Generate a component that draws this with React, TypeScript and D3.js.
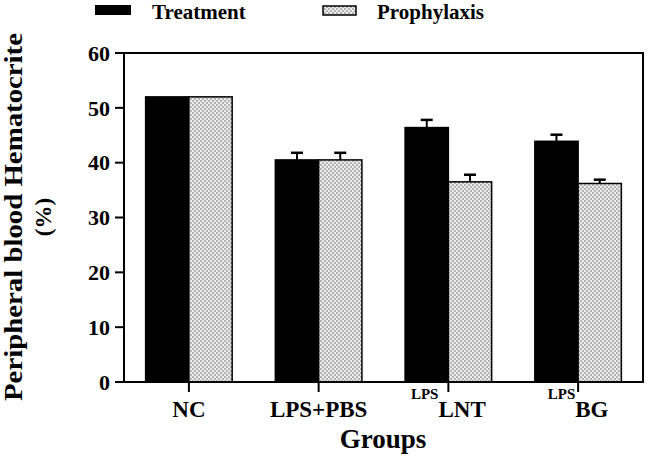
import React from "react";
import * as d3 from "d3";

const groups = ["NC", "LPS+PBS", "LNT", "BG"];
const groupSup = ["", "", "LPS", "LPS"];
const series = ["Treatment", "Prophylaxis"];
const treatment = [52.0, 40.5, 46.4, 43.9];
const treatmentErr = [0, 1.3, 1.4, 1.2];
const prophylaxis = [52.0, 40.5, 36.5, 36.2];
const prophylaxisErr = [0, 1.3, 1.3, 0.7];
const yTicks = [0, 10, 20, 30, 40, 50, 60];

const W = 648, H = 459;
const M = { left: 124, right: 643, top: 53, bottom: 382 };
const FONT = "'Liberation Serif', 'Times New Roman', serif";

export default function App() {
  const x0 = d3.scaleBand<string>().domain(groups).range([M.left, M.right]).paddingInner(0.333).paddingOuter(0.1667);
  const x1 = d3.scaleBand<string>().domain(series).range([0, x0.bandwidth()]);
  const y = d3.scaleLinear().domain([0, 60]).range([M.bottom, M.top]);
  const vals = [treatment, prophylaxis];
  const errs = [treatmentErr, prophylaxisErr];
  const fills = ["#000", "url(#checker)"];

  return (
    <svg width={W} height={H} style={{ position: "absolute", left: 0, top: 0, background: "#fff" }} fontFamily={FONT} fontWeight="bold">
      <defs>
        <pattern id="checker" width="4" height="4" patternUnits="userSpaceOnUse">
          <rect width="4" height="4" fill="#ececec" />
          <rect width="2" height="2" fill="#b4b4b4" />
          <rect x="2" y="2" width="2" height="2" fill="#b4b4b4" />
        </pattern>
      </defs>

      {/* legend */}
      <rect x={95} y={5} width={36} height={10} fill="#000" />
      <text x={152} y={19} fontSize={21} fill="#000">Treatment</text>
      <rect x={323} y={6} width={33} height={9} fill="url(#checker)" stroke="#000" strokeWidth={1.5} />
      <text x={377} y={19} fontSize={21} fill="#000">Prophylaxis</text>

      {/* bars */}
      {groups.map((g, gi) =>
        series.map((s, si) => {
          const bx = (x0(g) as number) + (x1(s) as number);
          const bw = x1.bandwidth();
          const v = vals[si][gi];
          return (
            <rect key={g + s} x={bx} y={y(v)} width={bw} height={y(0) - y(v)} fill={fills[si]} stroke="#000" strokeWidth={1.5} />
          );
        })
      )}

      {/* error bars */}
      {groups.map((g, gi) =>
        series.map((s, si) => {
          const e = errs[si][gi];
          if (!e) return null;
          const cx = (x0(g) as number) + (x1(s) as number) + x1.bandwidth() / 2;
          const v = vals[si][gi];
          return (
            <g key={"e" + g + s} stroke="#000">
              <line x1={cx} x2={cx} y1={y(v)} y2={y(v + e)} strokeWidth={2} />
              <line x1={cx - 6} x2={cx + 6} y1={y(v + e)} y2={y(v + e)} strokeWidth={2.5} />
            </g>
          );
        })
      )}

      {/* frame */}
      <rect x={M.left} y={M.top} width={M.right - M.left} height={M.bottom - M.top} fill="none" stroke="#000" strokeWidth={2} />

      {/* y axis */}
      {yTicks.map((t) => (
        <g key={t}>
          <line x1={M.left - 9} x2={M.left} y1={y(t)} y2={y(t)} stroke="#000" strokeWidth={2} />
          <text x={110} y={y(t)} dy="0.35em" textAnchor="end" fontSize={22} fill="#000">{t}</text>
        </g>
      ))}

      {/* x axis */}
      {groups.map((g, gi) => {
        const cx = (x0(g) as number) + x0.bandwidth() / 2;
        return (
          <g key={"x" + g}>
            <line x1={cx} x2={cx} y1={M.bottom} y2={M.bottom + 10} stroke="#000" strokeWidth={2} />
            <text x={cx} y={417} textAnchor="middle" fontSize={23} fill="#000">
              {groupSup[gi] ? <tspan fontSize={15} baselineShift="18px">{groupSup[gi]}</tspan> : null}
              {g}
            </text>
          </g>
        );
      })}

      <text x={383} y={448} textAnchor="middle" fontSize={27} fill="#000">Groups</text>

      <text transform="translate(22,217) rotate(-90)" textAnchor="middle" fontSize={26} fill="#000" textLength={368} lengthAdjust="spacingAndGlyphs">Peripheral blood Hematocrite</text>
      <text transform="translate(51,217) rotate(-90)" textAnchor="middle" fontSize={23} fill="#000">(%)</text>
    </svg>
  );
}
